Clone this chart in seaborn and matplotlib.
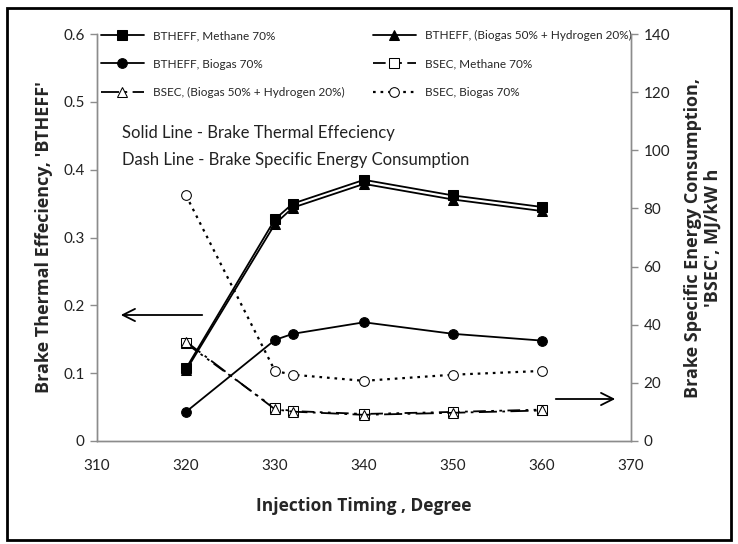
import matplotlib
matplotlib.use("Agg")
import matplotlib.pyplot as plt
import seaborn as sns
from matplotlib.patches import Rectangle

# ---------------- data ----------------
timing = [320, 330, 332, 340, 350, 360]
bth_methane = [0.107, 0.327, 0.350, 0.385, 0.362, 0.345]
bth_bio_h2 = [0.104, 0.320, 0.344, 0.379, 0.356, 0.339]
bth_biogas = [0.043, 0.149, 0.158, 0.175, 0.158, 0.148]
bsec_methane = [33.6, 11.2, 10.3, 9.3, 10.0, 10.8]
bsec_bio_h2 = [34.2, 10.9, 10.1, 9.0, 9.7, 10.5]
bsec_biogas = [84.5, 24.1, 22.8, 20.7, 22.8, 24.1]

x_ticks = [310, 320, 330, 340, 350, 360, 370]
left_ticks = [0, 0.1, 0.2, 0.3, 0.4, 0.5, 0.6]
left_tick_labels = ["0", "0.1", "0.2", "0.3", "0.4", "0.5", "0.6"]
right_ticks = [0, 20, 40, 60, 80, 100, 120, 140]

# ---------------- style ----------------
sns.set_style("white")
plt.rcParams["font.family"] = ["Lato", "DejaVu Sans"]
label_font = ["Open Sans", "DejaVu Sans"]

W, H = 738, 544
fig = plt.figure(figsize=(W / 100, H / 100), dpi=100)
ax = fig.add_axes([97 / W, 1 - 441 / H, (631 - 97) / W, (441 - 34) / H])
ax2 = ax.twinx()

grey = "#8c8c8c"
for a in (ax, ax2):
    for s in a.spines.values():
        s.set_color(grey)
        s.set_linewidth(1.0)
    a.spines["top"].set_visible(False)

lw = 1.3
ms = 7

sns.lineplot(x=timing, y=bth_methane, ax=ax, color="black", lw=lw, marker="s",
             markersize=ms, markeredgecolor="black", label="BTHEFF, Methane 70%", legend=False)
sns.lineplot(x=timing, y=bth_bio_h2, ax=ax, color="black", lw=lw, marker="^",
             markersize=ms, markeredgecolor="black",
             label="BTHEFF, (Biogas 50% + Hydrogen 20%)", legend=False)
sns.lineplot(x=timing, y=bth_biogas, ax=ax, color="black", lw=lw, marker="o",
             markersize=ms, markeredgecolor="black", label="BTHEFF, Biogas 70%", legend=False)

sns.lineplot(x=timing, y=bsec_methane, ax=ax2, color="black", lw=lw, marker="s",
             markersize=ms, markerfacecolor="white", markeredgecolor="black",
             label="BSEC, Methane 70%", legend=False)
sns.lineplot(x=timing, y=bsec_bio_h2, ax=ax2, color="black", lw=lw, marker="^",
             markersize=ms, markerfacecolor="white", markeredgecolor="black",
             label="BSEC, (Biogas 50% + Hydrogen 20%)", legend=False)
sns.lineplot(x=timing, y=bsec_biogas, ax=ax2, color="black", lw=1.6, marker="o",
             markersize=ms, markerfacecolor="white", markeredgecolor="black",
             label="BSEC, Biogas 70%", legend=False)

# line styles for BSEC series
l_meth, l_bioh2, l_bio = ax2.get_lines()[:3]
l_meth.set_dashes((7, 3, 1.5, 3, 1.5, 3))
l_bioh2.set_dashes((10, 3, 1.5, 3))
l_bio.set_dashes((1.2, 2.2))

# axes limits / ticks
ax.set_xlim(310, 370)
ax.set_xticks(x_ticks)
ax.set_ylim(0, 0.6)
ax.set_yticks(left_ticks)
ax.set_yticklabels(left_tick_labels)
ax2.set_ylim(0, 140)
ax2.set_yticks(right_ticks)

for a in (ax, ax2):
    a.tick_params(axis="both", which="major", labelsize=11, color=grey,
                  length=5, width=1.0, direction="out", labelcolor="#222222")
ax.tick_params(axis="x", pad=8)
ax.tick_params(axis="y", pad=4)
ax2.tick_params(axis="y", pad=4)

ax.set_xlabel("Injection Timing , Degree", fontsize=12.5, fontweight="bold",
              family=label_font, labelpad=17)
ax.set_ylabel("Brake Thermal Effeciency, 'BTHEFF'", fontsize=13, fontweight="bold",
              family=label_font, labelpad=7)
ax2.set_ylabel("Brake Specific Energy Consumption,\n'BSEC', MJ/kW h", fontsize=13,
               fontweight="bold", family=label_font, labelpad=10, linespacing=1.1)

# legend (2 columns, row-wise order)
h1, lab1 = ax.get_legend_handles_labels()
h2, lab2 = ax2.get_legend_handles_labels()
hd = dict(zip(lab1 + lab2, h1 + h2))
order = ["BTHEFF, Methane 70%", "BTHEFF, Biogas 70%", "BSEC, (Biogas 50% + Hydrogen 20%)",
         "BTHEFF, (Biogas 50% + Hydrogen 20%)", "BSEC, Methane 70%", "BSEC, Biogas 70%"]
leg = ax.legend([hd[k] for k in order], order, ncol=2, frameon=False, fontsize=8.5,
                loc="upper left", bbox_to_anchor=(-0.012, 1.035), handlelength=3.6,
                columnspacing=2.4, labelspacing=1.45, handletextpad=0.8,
                markerscale=1.0)
leg.set_zorder(10)

# annotations
fig.text(122 / W, 1 - 133 / H, "Solid Line - Brake Thermal Effeciency", fontsize=12,
         va="center", ha="left", color="#222222")
fig.text(122 / W, 1 - 160 / H, "Dash Line - Brake Specific Energy Consumption", fontsize=12,
         va="center", ha="left", color="#222222")

ax.annotate("", xy=(118 / W, 1 - 315 / H), xytext=(205 / W, 1 - 315 / H),
            xycoords="figure fraction", textcoords="figure fraction",
            arrowprops=dict(arrowstyle="->", color="black", lw=1.3, mutation_scale=22))
ax.annotate("", xy=(618 / W, 1 - 399 / H), xytext=(553 / W, 1 - 399 / H),
            xycoords="figure fraction", textcoords="figure fraction",
            arrowprops=dict(arrowstyle="->", color="black", lw=1.3, mutation_scale=22))

# outer border
border = Rectangle((7 / W, 4 / H), (W - 14) / W, (H - 12) / H, transform=fig.transFigure,
                   fill=False, edgecolor="black", lw=2.0)
fig.patches.append(border)

fig.savefig("out.png", dpi=100)
